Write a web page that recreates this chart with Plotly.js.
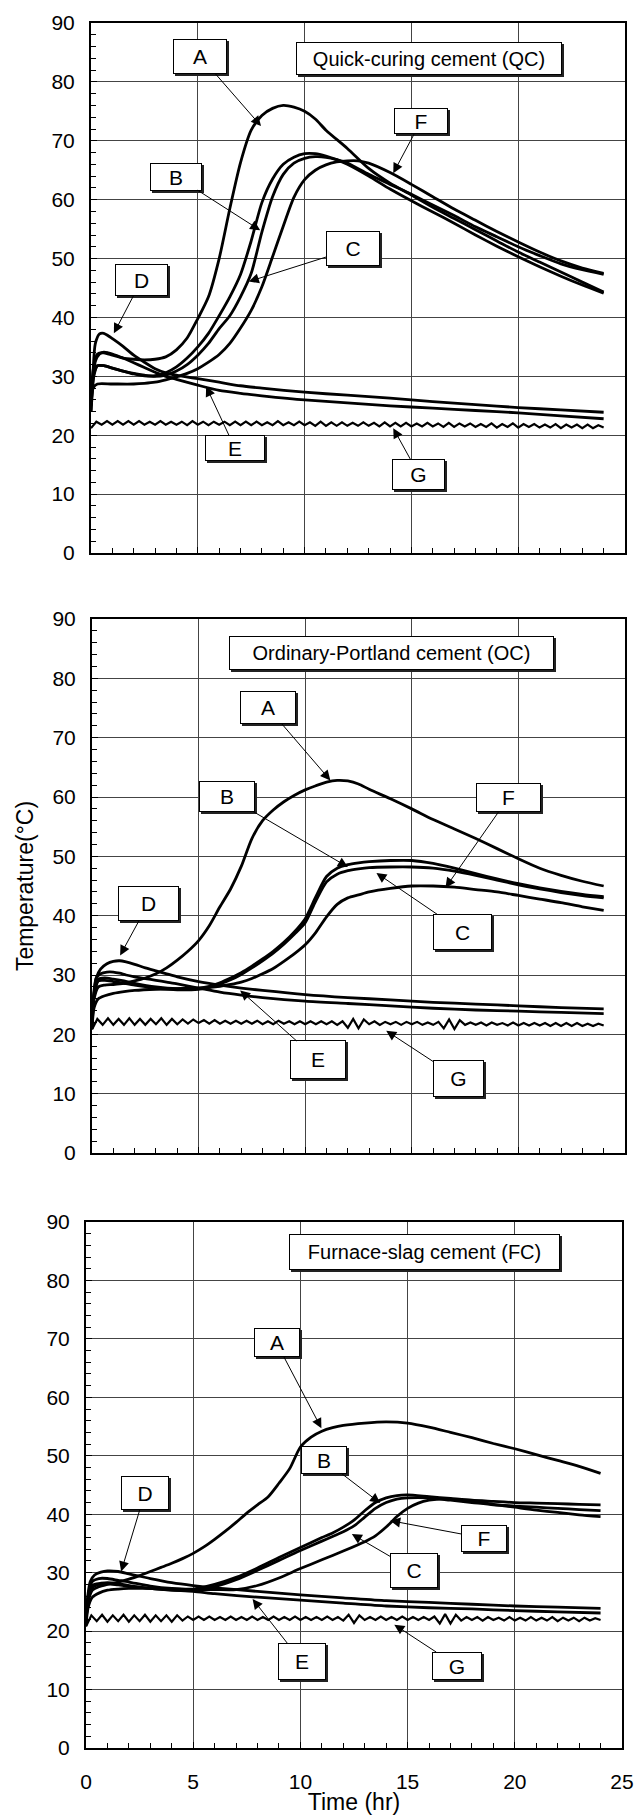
<!DOCTYPE html>
<html><head><meta charset="utf-8">
<script src="https://cdn.plot.ly/plotly-3.0.1.min.js"></script>
<style>html,body{margin:0;padding:0;background:#fff}</style>
</head><body>
<div id="chart" style="width:635px;height:1815px"></div>
<script>
// ---------- DATA (time in hr, temperature in °C) ----------
// Quick-curing cement (QC)
const tQC_A = [0,0.1,0.3,0.6,1, 1.5,2,2.5,3,3.5,4,4.5,5,5.5,6,6.5,7,7.5,8,8.5,9,9.5,10,10.5,11, 12,13,14,15,16,17,18,19,20,21,22,23,24];
const QC_A  = [26,31,33.8,34,33.6, 33.1,32.9,32.8,32.9,33.3,34.5,36.5,39.8,43.5,50,58.5,66.3,71.8,74.3,75.5,76,75.7,75,73.7,71.8, 68.7,65.3,62.8,60.8,58.7,56.8,54.9,53,51.1,49.4,47.7,46,44.3];
const tQC_BC = [0,0.1,0.3,0.6,1, 1.5,2,2.5,3,3.5,4,4.5,5,5.5,6,6.5,7,7.5,8,8.5,9,9.5,10,10.5,11,11.5, 12,13,14,15,16,17,18,19,20,21,22,23,24];
const QC_B  = [27,30,31.8,31.8,31.4, 30.9,30.4,30.1,30.1,30.6,31.6,33.1,35,37.3,40.3,43.5,47.3,53,59.5,63.5,66,67.2,67.8,67.8,67.4,66.8, 66,64,61.8,59.8,57.9,56,54,52.1,50.3,48.6,47,45.5,44.1];
const QC_C  = [26.5,29.5,31.8,31.8,31.4, 30.9,30.5,30.2,30,30.2,30.9,32,33.6,35.6,38.1,40.3,43.5,47.5,54.5,60.5,64.3,66.2,67,67.3,67.2,66.8, 66.2,64.3,62.6,60.9,59.1,57.3,55.4,53.7,52,50.5,49.1,48.1,47.3];
const tQC_F = [0,0.1,0.3,1,2, 2.5,3,3.5,4,4.5,5,5.5,6,6.5,7,7.5,8,8.5,9,9.5,10,10.5,11,11.5,12,12.5,13, 14,15,16,17,18,19,20,21,22,23,24];
const QC_F  = [25,28,28.7,28.7,28.7, 28.8,29,29.4,29.9,30.5,31.3,32.4,33.7,35.6,38.2,41.2,45.2,50.3,55.5,60.4,63.4,65,65.9,66.4,66.6,66.6,66.2, 64.6,62.6,60.5,58.4,56.5,54.6,52.8,51.1,49.6,48.4,47.5];
const tQC_DE = [0,0.1,0.2,0.4,0.6,0.8,1,1.5,2,2.5,3,3.5,4,5,6,7,8,10,12,14,16,18,20,22,24];
const QC_D  = [24,31,35.5,37.2,37.3,36.9,36.4,35.1,33.6,32.4,31.3,30.6,30.2,29.6,29,28.4,28,27.3,26.8,26.3,25.7,25.2,24.7,24.3,23.9];
const QC_E  = [24,29,32.5,33.8,34.1,34,33.8,33.1,32.3,31.5,30.7,30,29.5,28.5,27.6,27.1,26.7,26,25.5,25,24.6,24.2,23.8,23.3,22.8];

// Ordinary-Portland cement (OC)
const tOC_A = [0,0.1,0.3,0.6,1, 1.5,2,2.5,3,3.5,4,4.5,5,5.5,6,6.5,7,7.5,8,8.5,9,9.5,10,10.5,11,11.5,12,12.5,13, 14,15,16,17,18,19,20,21,22,23,24];
const OC_A  = [22,26,28,28.3,28.4, 28.6,29,29.5,30.2,31.2,32.5,34,35.8,38.3,41.5,44.5,48.3,53,56,57.8,59.2,60.3,61.2,61.9,62.5,62.8,62.7,62.2,61.3, 59.7,58,56.2,54.6,53,51.3,49.6,48,46.8,45.8,45];
const tOC_BC = [0,0.1,0.3,0.6,1,1.5,2,3,4,5, 5.5,6,6.5,7,7.5,8,8.5,9,9.5,10,10.5,11,11.5,12,12.5,13, 14,15,16,17,18,19,20,21,22,23,24];
const OC_B  = [22,27,29.3,29.5,29.3,29,28.6,28,27.7,27.8, 28.1,28.7,29.5,30.4,31.5,32.7,34,35.5,37.3,39.5,43.2,46.6,48,48.6,48.9,49.1, 49.3,49.3,48.8,48,47.1,46.2,45.4,44.7,44.1,43.6,43.2];
const OC_C  = [22,26.5,29,29.1,28.9,28.6,28.3,27.8,27.5,27.6, 27.9,28.5,29.2,30.1,31.2,32.4,33.7,35.2,36.9,38.8,42.5,45.7,47,47.6,47.9,48.1, 48.2,48.2,48,47.5,46.8,46,45.2,44.5,43.9,43.4,43];
const tOC_F = [0,0.1,0.3,0.6,1,1.5,2,3,4,5,6, 6.5,7,7.5,8,8.5,9,9.5,10,10.5,11,11.5,12,12.5,13, 14,15,16,17,18,19,20,21,22,23,24];
const OC_F  = [21,24.5,26,26.5,26.9,27.2,27.4,27.6,27.7,27.8,28.1, 28.4,28.8,29.4,30.2,31.1,32.3,33.6,35.1,37.2,39.8,41.9,43,43.5,44, 44.6,45,45,44.8,44.4,44,43.4,42.8,42.2,41.5,40.9];
const tOC_DE = [0,0.1,0.2,0.4,0.7,1,1.3,1.6,2,2.5,3,3.5,4,5,6,7,8,10,12,14,16,18,20,22,24];
const OC_D  = [21,27,29.5,31,31.9,32.3,32.4,32.2,31.8,31.2,30.7,30.2,29.7,28.9,28.3,27.8,27.4,26.7,26.2,25.8,25.4,25.1,24.8,24.5,24.3];
const OC_E  = [21,27.5,29.5,30.2,30.5,30.5,30.3,30,29.7,29.4,29.1,28.8,28.5,27.8,27.1,26.6,26.2,25.6,25.2,24.8,24.4,24.1,23.9,23.7,23.5];

// Furnace-slag cement (FC)
const tFC_A = [0,0.1,0.3,0.6,1, 1.5,2,2.5,3,3.5,4,4.5,5,5.5,6,6.5,7,7.5,8,8.5,9,9.5,10,10.5,11,11.5,12, 13,14,15,16,17,18,19,20,21,22,23,24];
const FC_A  = [22,25,27,27.6,28, 28.4,28.9,29.5,30.2,30.9,31.6,32.4,33.3,34.4,35.7,37.1,38.6,40.2,41.6,43,45.3,47.8,51.5,53.2,54.2,54.8,55.2, 55.6,55.8,55.6,54.9,54,53.1,52.1,51.2,50.2,49.2,48.2,47];
const tFC_BC = [0,0.1,0.3,0.6,1,1.5,2, 3,4,5,6,7,8,9,10,11, 11.5,12,12.5,13,13.5,14,14.5,15, 16,17,18,19,20,21,22,23,24];
const FC_B  = [22,26,28.5,29,29,28.7,28.4, 27.7,27.3,27.2,28,29.2,30.8,32.6,34.3,36, 36.8,37.8,39,40.6,42,42.8,43.2,43.3, 43,42.7,42.4,42.2,42,41.9,41.8,41.7,41.6];
const FC_C  = [22,25.5,27.5,28,28.1,27.9,27.7, 27.3,27,27,27.6,28.8,30.4,32.1,33.8,35.4, 36.2,37,38,39.5,41,42,42.6,42.8, 42.8,42.4,42,41.6,41.4,41.2,41,40.8,40.6];
const tFC_F = [0,0.1,0.3,0.6,1,1.5,2, 3,4,5,6,7,8,9,10,11,12,13, 13.5,14,14.5,15,15.5,16,16.5,17, 18,19,20,21,22,23,24];
const FC_F  = [21,24,25.8,26.5,27,27.2,27.3, 27.3,27.2,27.1,27.1,27.1,27.8,29.1,30.7,32.2,33.7,35.3, 36.3,37.8,39.6,41,41.9,42.4,42.6,42.6, 42.2,41.7,41.2,40.7,40.3,39.9,39.6];
const tFC_DE = [0,0.1,0.2,0.4,0.7,1,1.5,2,3,4,5,6,8,10,12,14,16,18,20,22,24];
const FC_D  = [21,26.5,28.5,29.6,30.1,30.3,30.2,29.8,29,28.3,27.8,27.4,26.8,26.2,25.7,25.2,24.9,24.6,24.3,24.1,23.9];
const FC_E  = [21,26,27.5,28,28.2,28.3,28.1,27.8,27.3,27,26.8,26.4,25.8,25.3,24.8,24.3,24,23.8,23.5,23.3,23.1];

// Ambient temperature G (sampled every 0.25 hr)
const tG = [
 0,0.25,0.5,0.75,1,1.25,1.5,1.75,
 2,2.25,2.5,2.75,3,3.25,3.5,3.75,
 4,4.25,4.5,4.75,5,5.25,5.5,5.75,
 6,6.25,6.5,6.75,7,7.25,7.5,7.75,
 8,8.25,8.5,8.75,9,9.25,9.5,9.75,
 10,10.25,10.5,10.75,11,11.25,11.5,11.75,
 12,12.25,12.5,12.75,13,13.25,13.5,13.75,
 14,14.25,14.5,14.75,15,15.25,15.5,15.75,
 16,16.25,16.5,16.75,17,17.25,17.5,17.75,
 18,18.25,18.5,18.75,19,19.25,19.5,19.75,
 20,20.25,20.5,20.75,21,21.25,21.5,21.75,
 22,22.25,22.5,22.75,23,23.25,23.5,23.75,
 24];
const G_QC = [
 21.2,22.3,21.8,22.4,21.8,22.4,21.8,22.4,
 21.8,22.4,21.8,22.3,21.8,22.4,21.8,22.3,
 21.8,22.3,21.7,22.4,21.8,22.3,21.7,22.3,
 21.8,22.3,21.7,22.3,21.7,22.3,21.7,22.3,
 21.7,22.2,21.7,22.4,21.7,22.2,21.7,22.3,
 21.7,22.2,21.6,22.3,21.6,22.2,21.6,22.2,
 21.6,22.1,21.6,22.2,21.6,22.1,21.5,22.2,
 21.5,22.1,21.5,22.1,21.5,22.0,21.5,22.1,
 21.5,22.0,21.4,22.1,21.4,22.0,21.5,22.0,
 21.4,21.9,21.4,22.0,21.3,21.9,21.4,22.0,
 21.3,21.9,21.4,21.9,21.3,21.8,21.3,21.9,
 21.2,21.8,21.3,21.8,21.2,21.8,21.2,21.7,
 21.3];
const G_OC = [
 20.8,22.6,21.6,22.7,21.6,22.6,21.6,22.7,
 21.6,22.6,21.6,22.6,21.7,22.7,21.6,22.6,
 21.7,22.5,21.8,22.5,21.9,22.4,21.8,22.4,
 21.8,22.3,21.8,22.3,21.8,22.3,21.8,22.3,
 21.7,22.2,21.7,22.3,21.8,22.2,21.7,22.2,
 21.7,22.2,21.7,22.2,21.7,22.2,21.6,22.2,
 21.1,22.6,21.0,22.5,21.7,22.2,21.6,22.1,
 21.7,22.1,21.6,22.1,21.7,22.1,21.6,22.0,
 21.6,22.1,21.0,22.5,20.9,22.4,21.6,22.0,
 21.6,22.0,21.5,22.0,21.6,21.9,21.5,22.0,
 21.5,21.9,21.5,21.9,21.5,21.9,21.4,21.9,
 21.4,21.9,21.4,21.9,21.4,21.8,21.4,21.8,
 21.5];
const G_FC = [
 20.8,22.7,21.7,22.8,21.6,22.7,21.7,22.8,
 21.6,22.7,21.7,22.8,21.6,22.7,21.7,22.7,
 21.6,22.7,21.8,22.5,21.9,22.5,21.9,22.5,
 21.9,22.4,21.9,22.5,21.9,22.4,21.9,22.5,
 21.9,22.4,21.9,22.5,21.9,22.4,21.9,22.5,
 21.9,22.4,21.9,22.4,21.9,22.5,21.9,22.4,
 21.8,22.8,21.4,22.7,21.9,22.4,21.9,22.5,
 21.9,22.4,21.9,22.5,21.9,22.4,21.9,22.4,
 21.9,22.5,21.3,22.9,21.3,22.8,21.8,22.4,
 21.9,22.4,21.8,22.4,21.9,22.3,21.8,22.4,
 21.8,22.3,21.8,22.4,21.8,22.3,21.8,22.4,
 21.7,22.3,21.8,22.3,21.7,22.3,21.8,22.2,
 21.9];

// ---------- LAYOUT / STYLE ----------
const FONT = 'Liberation Sans, Arial, Helvetica, sans-serif';
const W = 635, H = 1815;
// plot-area pixel boxes [left, right, top, bottom]
const boxes = [[91,625,23,553],[92,625,619,1153],[86,622,1222,1748]];

const panels = [
  { title:'Quick-curing cement (QC)', titlePos:[15.82,83.9,266,33],
    curves:[[tQC_A,QC_A],[tQC_BC,QC_B],[tQC_BC,QC_C],[tQC_DE,QC_D],[tQC_DE,QC_E],[tQC_F,QC_F]], G:G_QC,
    callouts:[['A',7.96,72.5,5.12,84.3,54,35],['B',7.92,54.8,4.0,63.9,52,28],['C',7.39,46.1,12.26,51.7,54,35],
              ['D',1.07,37.3,2.38,46.4,53,32],['E',5.39,28.3,6.74,17.8,60,26],['F',14.15,64.5,15.46,73.4,54,26],
              ['G',14.15,21.2,15.35,13.3,53,31]] },
  { title:'Ordinary-Portland cement (OC)', titlePos:[14.05,84.2,325,34],
    curves:[[tOC_A,OC_A],[tOC_BC,OC_B],[tOC_BC,OC_C],[tOC_DE,OC_D],[tOC_DE,OC_E],[tOC_F,OC_F]], G:G_OC,
    callouts:[['A',11.18,62.8,8.24,75.1,56,33],['B',12.0,48.2,6.35,60.1,56,31],['F',16.58,44.7,19.54,59.9,65,29],
              ['C',13.34,47.2,17.39,37.3,59,36],['D',1.32,33.3,2.65,42.1,61,35],['E',6.95,27.4,10.59,15.7,56,39],
              ['G',13.8,20.6,17.2,12.6,51,37]] },
  { title:'Furnace-slag cement (FC)', titlePos:[15.81,84.9,271,36],
    curves:[[tFC_A,FC_A],[tFC_BC,FC_B],[tFC_BC,FC_C],[tFC_DE,FC_D],[tFC_DE,FC_E],[tFC_F,FC_F]], G:G_FC,
    callouts:[['A',10.98,54.7,8.89,69.3,46,29],['B',13.72,41.9,11.09,49.3,46,28],['D',1.64,30.2,2.75,43.7,48,34],
              ['F',14.19,38.9,18.55,35.9,46,27],['C',12.4,36.6,15.3,30.4,48,35],['E',7.77,25.5,10.06,14.8,48,37],
              ['G',14.38,21.1,17.3,14.1,50,28]] }
];

const data = [];
const annotations = [];
const layout = {
  width: W, height: H, margin:{l:0,r:0,t:0,b:0},
  paper_bgcolor:'#fff', plot_bgcolor:'#fff', showlegend:false,
  font:{family:FONT, size:20, color:'#000'}
};

panels.forEach((p, i) => {
  const sx = i === 0 ? '' : String(i+1);
  const xa = 'x' + sx, ya = 'y' + sx;
  const b = boxes[i];
  const last = i === panels.length - 1;
  layout['xaxis' + sx] = {
    domain:[b[0]/W, b[1]/W], anchor: ya, range:[0,25], dtick:5, tick0:0,
    showgrid:true, gridcolor:'#444', gridwidth:1, zeroline:false,
    showline:true, mirror:true, linecolor:'#000', linewidth:2,
    ticks:'inside', ticklen:6, tickcolor:'#000', tickwidth:1,
    minor:{dtick:1, ticks:'inside', ticklen:5, tickcolor:'#000', showgrid:false},
    showticklabels: last, ticklabelstandoff: 14,
    tickfont:{family:FONT, size:21, color:'#000'},
    title: last ? {text:'Time (hr)', font:{family:FONT, size:23, color:'#000'}, standoff:2} : {text:''},
    fixedrange:true
  };
  layout['yaxis' + sx] = {
    domain:[1 - b[3]/H, 1 - b[2]/H], anchor: xa, range:[0,90], dtick:10, tick0:0,
    showgrid:true, gridcolor:'#444', gridwidth:1, zeroline:false,
    showline:true, mirror:true, linecolor:'#000', linewidth:2,
    ticks:'inside', ticklen:6, tickcolor:'#000', tickwidth:1,
    minor:{dtick:2, ticks:'inside', ticklen:5, tickcolor:'#000', showgrid:false},
    ticklabelstandoff: 10,
    tickfont:{family:FONT, size:21, color:'#000'},
    title: i === 1 ? {text:'Temperature(°C)', font:{family:FONT, size:23, color:'#000'}, standoff:12} : {text:''},
    fixedrange:true
  };

  p.curves.forEach(c => {
    data.push({type:'scatter', mode:'lines', x:c[0], y:c[1], xaxis:xa, yaxis:ya,
      line:{color:'#000', width:2.8, shape:'spline', smoothing:0.7}, hoverinfo:'skip'});
  });
  data.push({type:'scatter', mode:'lines', x:tG, y:p.G, xaxis:xa, yaxis:ya,
    line:{color:'#000', width:2.2}, hoverinfo:'skip'});

  // title box (shadow + box)
  const tp = p.titlePos;
  annotations.push({xref:xa, yref:ya, x:tp[0], y:tp[1], text:' ', showarrow:false,
    width:tp[2]-4, height:tp[3]-4, bgcolor:'#222', bordercolor:'#222', borderwidth:1, borderpad:1,
    xshift:2, yshift:-2, font:{family:FONT,size:20}});
  annotations.push({xref:xa, yref:ya, x:tp[0], y:tp[1], text:p.title, showarrow:false,
    width:tp[2]-4, height:tp[3]-4, bgcolor:'#fff', bordercolor:'#000', borderwidth:1, borderpad:1,
    font:{family:FONT,size:20,color:'#000'}});

  p.callouts.forEach(c => {
    const [lab, tx, ty, bx, by, w, h] = c;
    annotations.push({xref:xa, yref:ya, x:bx, y:by, text:' ', showarrow:false,
      width:w-4, height:h-4, bgcolor:'#222', bordercolor:'#222', borderwidth:1, borderpad:1,
      xshift:2, yshift:-2, font:{family:FONT,size:20}});
    annotations.push({xref:xa, yref:ya, axref:xa, ayref:ya, x:tx, y:ty, ax:bx, ay:by,
      text:lab, showarrow:true, arrowhead:2, arrowsize:2, arrowwidth:1, arrowcolor:'#000',
      width:w-4, height:h-4, bgcolor:'#fff', bordercolor:'#000', borderwidth:1, borderpad:1,
      font:{family:FONT,size:21,color:'#000'}});
  });
});
layout.annotations = annotations;

Plotly.newPlot('chart', data, layout, {displayModeBar:false, staticPlot:true});
</script>
</body></html>
